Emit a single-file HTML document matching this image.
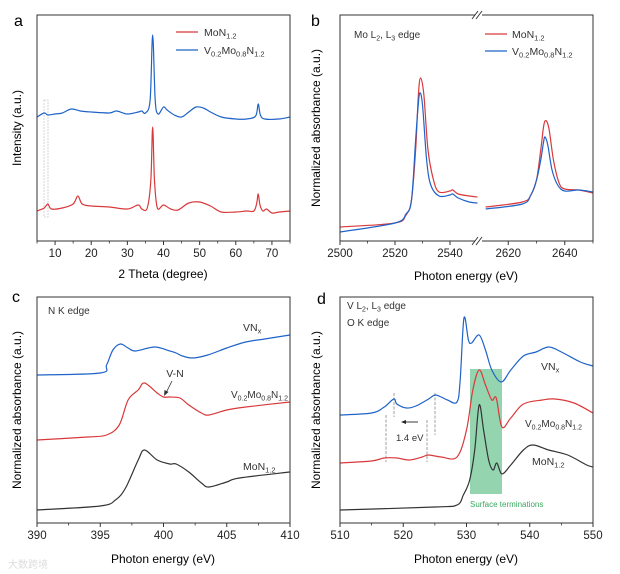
<!DOCTYPE html>
<html><head><meta charset="utf-8"><style>
body{margin:0;background:#fff;}
svg{display:block;font-family:"Liberation Sans",Arial,sans-serif;}
</style></head><body>
<svg id="fig" width="620" height="574" viewBox="0 0 620 574">
<g>
<text x="14" y="26" font-size="16">a</text>
<text transform="translate(21,128) rotate(-90)" text-anchor="middle" font-size="12">Intensity (a.u.)</text>
<text x="163" y="278" text-anchor="middle" font-size="12">2 Theta (degree)</text>
<line x1="176" y1="32" x2="198" y2="32" stroke="#d9393b" stroke-width="1.3"/>
<text x="204" y="36" font-size="10.5" fill="#333">MoN<tspan font-size="7.5" dy="2.5">1.2</tspan></text>
<line x1="176" y1="50" x2="198" y2="50" stroke="#1f63c8" stroke-width="1.3"/>
<text x="204" y="54" font-size="10.5" fill="#333">V<tspan font-size="7.5" dy="2.5">0.2</tspan><tspan dy="-2.5">Mo</tspan><tspan font-size="7.5" dy="2.5">0.8</tspan><tspan dy="-2.5">N</tspan><tspan font-size="7.5" dy="2.5">1.2</tspan></text>
<rect x="44" y="100" width="4" height="117" fill="none" stroke="#ccc" stroke-width="0.8" stroke-dasharray="2,1"/>
</g>
<g>
<text x="311" y="26" font-size="16">b</text>
<text transform="translate(320,128) rotate(-90)" text-anchor="middle" font-size="12">Normalized absorbance (a.u.)</text>
<text x="466" y="280" text-anchor="middle" font-size="12">Photon energy (eV)</text>
<text x="354" y="38" font-size="10" fill="#333">Mo L<tspan font-size="7" dy="2.5">2</tspan><tspan dy="-2.5">, L</tspan><tspan font-size="7" dy="2.5">3</tspan><tspan dy="-2.5"> edge</tspan></text>
<line x1="485" y1="34" x2="507" y2="34" stroke="#d9393b" stroke-width="1.3"/>
<text x="512" y="38" font-size="10.5" fill="#333">MoN<tspan font-size="7.5" dy="2.5">1.2</tspan></text>
<line x1="485" y1="51" x2="507" y2="51" stroke="#1f63c8" stroke-width="1.3"/>
<text x="512" y="55" font-size="10.5" fill="#333">V<tspan font-size="7.5" dy="2.5">0.2</tspan><tspan dy="-2.5">Mo</tspan><tspan font-size="7.5" dy="2.5">0.8</tspan><tspan dy="-2.5">N</tspan><tspan font-size="7.5" dy="2.5">1.2</tspan></text>
</g>
<g>
<text x="12" y="302" font-size="16">c</text>
<text transform="translate(21,410) rotate(-90)" text-anchor="middle" font-size="12">Normalized absorbance (a.u.)</text>
<text x="163" y="563" text-anchor="middle" font-size="12">Photon energy (eV)</text>
<text x="48" y="314" font-size="10" fill="#333">N K edge</text>
<text x="243" y="331" font-size="10.5" fill="#333">VN<tspan font-size="7.5" dy="2.5">x</tspan></text>
<text x="288" y="398" text-anchor="end" font-size="10" fill="#333">V<tspan font-size="7" dy="2.5">0.2</tspan><tspan dy="-2.5">Mo</tspan><tspan font-size="7" dy="2.5">0.8</tspan><tspan dy="-2.5">N</tspan><tspan font-size="7" dy="2.5">1.2</tspan></text>
<text x="243" y="470" font-size="10.5" fill="#333">MoN<tspan font-size="7.5" dy="2.5">1.2</tspan></text>
<text x="175" y="377" text-anchor="middle" font-size="10.5" fill="#333">V-N</text>
<line x1="172" y1="381" x2="166" y2="393" stroke="#333" stroke-width="0.8"/>
<path d="M164,396 L164.5,390 L168.5,392 Z" fill="#333"/>
<text x="8" y="568" font-size="10" fill="#ddd">大数跨境</text>
</g>
<g>
<rect x="470" y="369" width="32" height="125" fill="#5bbf86" opacity="0.65"/>
<text x="317" y="304" font-size="16">d</text>
<text transform="translate(320,410) rotate(-90)" text-anchor="middle" font-size="12">Normalized absorbance (a.u.)</text>
<text x="466" y="563" text-anchor="middle" font-size="12">Photon energy (eV)</text>
<text x="347" y="309" font-size="10" fill="#333">V L<tspan font-size="7" dy="2.5">2</tspan><tspan dy="-2.5">, L</tspan><tspan font-size="7" dy="2.5">3</tspan><tspan dy="-2.5"> edge</tspan></text>
<text x="347" y="326" font-size="10" fill="#333">O K edge</text>
<text x="541" y="370" font-size="10.5" fill="#333">VN<tspan font-size="7.5" dy="2.5">x</tspan></text>
<text x="525" y="427" font-size="10" fill="#333">V<tspan font-size="7" dy="2.5">0.2</tspan><tspan dy="-2.5">Mo</tspan><tspan font-size="7" dy="2.5">0.8</tspan><tspan dy="-2.5">N</tspan><tspan font-size="7" dy="2.5">1.2</tspan></text>
<text x="532" y="465" font-size="10.5" fill="#333">MoN<tspan font-size="7.5" dy="2.5">1.2</tspan></text>
<text x="470" y="507" font-size="8" fill="#3aa860">Surface terminations</text>
<g stroke="#888" stroke-width="0.8" stroke-dasharray="3,1.5">
<line x1="394" y1="393" x2="394" y2="417"/><line x1="435" y1="393" x2="435" y2="435"/>
<line x1="386" y1="415" x2="386" y2="462"/><line x1="427" y1="420" x2="427" y2="462"/>
</g>
<line x1="418" y1="422" x2="405" y2="422" stroke="#222" stroke-width="0.9"/>
<path d="M401,422 L406,420 L406,424 Z" fill="#222"/>
<text x="396" y="441" font-size="9.5" fill="#333">1.4 eV</text>
</g>
<g id="plots"></g>
</svg>
<script>
// Panel a: XRD
const aAngle=[5,7,8,9,12,15,16.3,17.5,20,25,30,33,34,35.5,36.5,37,37.5,38.3,40,42,44,47,50,53,56,60,63,65,65.8,66.2,66.7,67.5,68.5,70,72,75];
const aMoN=[30,33,37,32,33,37,45,37,35,34,32,36,32,33,61,114,61,33,36,32,31,38,39,35,29,29,30,30,38,47,36,30,32,28,29,30];
const aAngleV=[5,7,8,10,12,14.5,17,20,25,27,30,33,34,35,36.3,37,37.7,38.5,40,41,43,45,47,49,51,53,56,60,63,65.5,66.2,66.8,68,72,75];
const aVMoN=[124,128,126,127,128,132,130,129,128,130,127,129,130,128,141,206,141,127,134,131,126,124,129,134,133,129,124,122,122,125,137,126,122,122,124];
const aTicks=[10,20,30,40,50,60,70];
// Panel b: Mo L edges
const bE1=[2500,2520,2524,2526,2527.5,2528.5,2529.3,2530.5,2532,2534,2536,2540,2541,2543,2547,2550];
const bMoN1=[14,18,26,41,91,146,163,146,91,61,49,50,51,47,45,44];
const bEV1=[2500,2520,2524,2526,2527.5,2528.3,2529,2530,2531.5,2533,2536,2540,2541,2543,2547,2550];
const bVMoN1=[9,18,27,41,101,131,148,136,81,56,45,46,47,43,39,38];
const bE2=[2612,2625,2628,2630,2631.5,2632.6,2633.5,2634.5,2636,2638,2640,2645,2650];
const bMoN2=[34,39,46,61,91,116,120,111,81,58,52,51,48];
const bEV2=[2612,2625,2628,2630,2631.5,2632.5,2633,2634,2635.5,2637.5,2640,2645,2650];
const bVMoN2=[32,37,46,61,81,99,104,96,71,56,50,51,49];
const bTicks1=[2500,2520,2540];
const bTicks2=[2620,2640];
// Panel c: N K edge
const cEVN=[390,395,395.5,396,396.6,397.2,397.8,399.3,400.5,401,401.5,402.3,403.5,405,406.5,408,410];
const cVN=[148,150,158,173,179,175,172,176,172,170,167,165,168,175,181,184,188];
const cEV=[390,394,395.5,396.5,397.2,398,398.5,399.5,400,400.5,401.3,402,403,403.6,405,406.5,410];
const cVMoN=[83,86,88,98,123,133,140,130,126,126,125,118,110,108,113,116,121];
const cEM=[390,395,396.2,397,398,398.5,399.5,400.5,401,402,403,403.6,405,406,410];
const cMoN=[13,17,23,35,63,73,63,59,59,51,40,36,41,45,51];
const cTicks=[390,395,400,405,410];
// Panel d: V L / O K edge
const dEVN=[510,515,517,518.5,519,520.5,522,524,525,526,527,528.5,529,529.6,530.3,530.8,532,533,534,535.5,537,539,541,543,545,548,550];
const dVN=[108,110,116,124,119,115,117,124,128,126,123,121,143,205,183,180,188,173,153,141,153,167,171,176,171,161,157];
const dEV=[510,515,517,519,521,523,524,526,528.5,530,531,532,533,534,534.7,535.6,537,539,542,544,547,550];
const dVMoN=[60,62,65,65,63,66,68,66,66,93,133,153,138,123,125,96,105,119,123,124,120,110];
const dEM=[510,525,528.5,529.5,530.5,531.3,532,532.7,533.5,534.2,534.8,535.6,537,539,540.5,543,546,549,550];
const dMoN=[13,16,18,28,43,73,118,93,63,53,60,49,58,73,78,73,68,58,56];
const dTicks=[510,520,530,540,550];

const NS="http://www.w3.org/2000/svg";
const root=document.getElementById('plots');
function mk(tag,attrs,parent){const e=document.createElementNS(NS,tag);for(const k in attrs)e.setAttribute(k,attrs[k]);(parent||root).appendChild(e);return e;}
function lin(d0,d1,r0,r1){return v=>r0+(v-d0)*(r1-r0)/(d1-d0);}
function smoothPath(pts){
  let d="M"+pts[0][0].toFixed(2)+","+pts[0][1].toFixed(2);
  for(let i=0;i<pts.length-1;i++){
    const p0=pts[Math.max(0,i-1)],p1=pts[i],p2=pts[i+1],p3=pts[Math.min(pts.length-1,i+2)];
    const c1x=p1[0]+(p2[0]-p0[0])/6,c1y=p1[1]+(p2[1]-p0[1])/6;
    const c2x=p2[0]-(p3[0]-p1[0])/6,c2y=p2[1]-(p3[1]-p1[1])/6;
    d+=" C"+c1x.toFixed(2)+","+c1y.toFixed(2)+" "+c2x.toFixed(2)+","+c2y.toFixed(2)+" "+p2[0].toFixed(2)+","+p2[1].toFixed(2);
  }
  return d;
}
function series(xs,ys,sx,sy,color,name){
  const pts=xs.map((x,i)=>[sx(x),sy(ys[i])]);
  const p=mk('path',{d:smoothPath(pts),fill:'none',stroke:color,'stroke-width':1.2});
  
  
}
function box(x0,y0,x1,y1,name){
  const r=mk('rect',{x:x0,y:y0,width:x1-x0,height:y1-y0,fill:'none',stroke:'#333','stroke-width':1});
  
  
}
function ticks(vals,sx,y,name,minorStep,lo,hi){
  for(const v of vals){
    const x=sx(v);
    const t=mk('line',{x1:x,y1:y,x2:x,y2:y+4,stroke:'#333','stroke-width':1});
    
    
    const l=mk('text',{x:x,y:y+16,'text-anchor':'middle','font-size':11.5,fill:'#222'});
    l.textContent=v;
    
    
  }
  if(minorStep){
    for(let v=lo;v<=hi+1e-9;v+=minorStep){
      if(vals.some(m=>Math.abs(m-v)<1e-6))continue;
      const x=sx(v);
      const t=mk('line',{x1:x,y1:y,x2:x,y2:y+2.5,stroke:'#333','stroke-width':0.8});
      
      
    }
  }
}
// Panel a
{
  const sx=lin(5,75,37,290), sy=lin(0,226,241,15);
  series(aAngle,aMoN,sx,sy,'#d9393b','series-mon-a');
  series(aAngleV,aVMoN,sx,sy,'#1f63c8','series-vmon-a');
  box(37,15,290,241,'plot-area-a');
  ticks(aTicks,sx,241,'x-axis-a',5,5,75);
}
// Panel b
{
  const sx1=lin(2500,2550,340,477.5), sx2=lin(2610,2650,480,593), sy=lin(0,226,241,15);
  series(bE1,bMoN1,sx1,sy,'#d9393b','series-mon-b-l3');
  series(bEV1,bVMoN1,sx1,sy,'#1f63c8','series-vmon-b-l3');
  series(bE2,bMoN2,sx2,sy,'#d9393b','series-mon-b-l2');
  series(bEV2,bVMoN2,sx2,sy,'#1f63c8','series-vmon-b-l2');
  box(340,15,593,241,'plot-area-b');
  ticks(bTicks1,sx1,241,'x-axis-b-left',10,2500,2545);
  ticks(bTicks2,sx2,241,'x-axis-b-right',10,2620,2650);
  for(const y of [15,241]){
    const g=mk('g',{});
    
    
    mk('rect',{x:475,y:y-2,width:7,height:4,fill:'#fff'},g);
    mk('line',{x1:472,y1:y+4,x2:478,y2:y-4,stroke:'#333','stroke-width':0.9},g);
    mk('line',{x1:476,y1:y+4,x2:482,y2:y-4,stroke:'#333','stroke-width':0.9},g);
  }
}
// Panel c
{
  const sx=lin(390,410,37,290), sy=lin(0,226,523,297);
  series(cEVN,cVN,sx,sy,'#1f63c8','series-vnx-c');
  series(cEV,cVMoN,sx,sy,'#d9393b','series-vmon-c');
  series(cEM,cMoN,sx,sy,'#333','series-mon-c');
  box(37,297,290,523,'plot-area-c');
  ticks(cTicks,sx,523,'x-axis-c',2.5,390,410);
}
// Panel d
{
  const sx=lin(510,550,340,593), sy=lin(0,226,523,297);
  series(dEVN,dVN,sx,sy,'#1f63c8','series-vnx-d');
  series(dEV,dVMoN,sx,sy,'#d9393b','series-vmon-d');
  series(dEM,dMoN,sx,sy,'#333','series-mon-d');
  box(340,297,593,523,'plot-area-d');
  ticks(dTicks,sx,523,'x-axis-d',5,510,550);
}
</script>
</body></html>
